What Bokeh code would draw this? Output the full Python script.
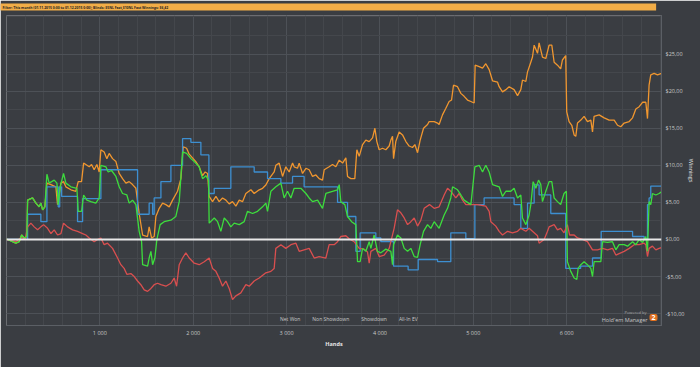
from bokeh.plotting import figure
from bokeh.models import (FixedTicker, Range1d, Span, Label, Legend, LegendItem)
from bokeh.embed import file_html
from bokeh.resources import INLINE

# ---------------- data (hands, $) ----------------
FILTER_TEXT = "Filter: This month (01.11.2015 0:00 to 01.12.2015 0:00); Blinds: $5NL Fast,$10NL Fast  Winnings: $6,42"
SERIES_NAMES = ["Net Won", "Non Showdown", "Showdown", "All-In EV"]

X_TICKS = [1000, 2000, 3000, 4000, 5000, 6000]
X_TICK_LABELS = ["1 000", "2 000", "3 000", "4 000", "5 000", "6 000"]
Y_TICKS = [-10, -5, 0, 5, 10, 15, 20, 25]
Y_TICK_LABELS = ["-$10,00", "-$5,00", "$0,00", "$5,00", "$10,00", "$15,00", "$20,00", "$25,00"]

NET_WON = [(0, 0), (12, 0.0), (100, -0.5), (136, -0.3), (162, 0.6), (190, 0.2), (218, 0.4), (226, 5.3),
           (279, 5.6), (315, 4.9), (350, 4.4), (368, 4.9), (387, 4.0), (411, 4.4), (433, 8.8), (457, 7.6),
           (511, 8.0), (540, 7.6), (554, 4.7), (575, 7.1), (611, 8.9), (636, 7.6), (690, 7.1), (754, 6.9),
           (768, 3.8), (804, 3.8), (826, 6.0), (861, 5.3), (904, 5.1), (957, 4.9), (993, 5.6), (1011, 10.0),
           (1065, 9.8), (1089, 9.1), (1125, 9.3), (1172, 8.5), (1207, 7.1), (1243, 6.2), (1289, 6.0),
           (1314, 4.9), (1350, 5.3), (1386, 4.7), (1421, 1.1), (1447, -0.3), (1458, -3.4), (1511, -3.6),
           (1528, -2.5), (1547, -1.6), (1565, -3.4), (1589, -2.5), (1611, 0.0), (1646, 2.0), (1689, 2.4),
           (1761, 2.6), (1814, 3.1), (1850, 5.1), (1886, 11.8), (1929, 11.6), (1975, 10.9), (2011, 10.5),
           (2064, 9.8), (2100, 8.2), (2136, 8.6), (2164, 8.0), (2171, 2.2), (2225, 2.9), (2261, 2.4),
           (2296, 1.1), (2332, 2.9), (2368, 2.4), (2403, 1.7), (2439, 2.2), (2493, 2.0), (2546, 2.4),
           (2582, 3.8), (2636, 3.5), (2689, 3.8), (2743, 4.4), (2778, 4.9), (2796, 3.8), (2832, 6.5),
           (2885, 7.1), (2939, 7.6), (2974, 5.6), (3010, 6.5), (3046, 5.6), (3081, 6.9), (3153, 6.9),
           (3207, 6.2), (3242, 5.6), (3278, 5.1), (3332, 5.3), (3385, 4.2), (3421, 6.2), (3492, 6.5),
           (3546, 6.7), (3564, 7.4), (3581, 5.1), (3624, 4.7), (3653, 3.1), (3696, 2.4), (3742, 2.0),
           (3760, -3.0), (3788, -3.0), (3814, -1.2), (3849, -1.6), (3885, -0.3), (3903, -1.2), (3938, 0.6),
           (3974, -1.6), (4010, -1.8), (4063, -1.3), (4117, -1.6), (4135, -3.4), (4146, -0.7), (4188, 0.6),
           (4224, 0.2), (4260, -1.2), (4296, -1.6), (4331, -1.2), (4367, -2.3), (4403, -2.4), (4431, -0.7),
           (4467, 1.1), (4510, 2.0), (4545, 1.5), (4581, 2.4), (4634, 1.5), (4688, 3.3), (4724, 4.2),
           (4759, 5.6), (4778, 7.1), (4831, 6.7), (4867, 6.0), (4902, 5.3), (4974, 4.7), (5017, 9.8),
           (5063, 10.0), (5099, 9.1), (5134, 10.0), (5170, 9.1), (5206, 7.4), (5277, 7.1), (5313, 5.8),
           (5349, 6.5), (5402, 6.5), (5437, 6.9), (5474, 5.6), (5509, 6.0), (5527, 2.9), (5563, 2.0),
           (5598, 3.3), (5616, 4.7), (5641, 7.8), (5670, 6.9), (5699, 8.0), (5723, 7.4), (5741, 5.1),
           (5777, 6.5), (5812, 7.8), (5841, 7.8), (5866, 5.6), (5902, 5.1), (5936, 4.7), (5972, 6.2),
           (5997, 6.5), (6008, -3.0), (6044, -4.3), (6080, -5.2), (6109, -5.4), (6123, -3.9), (6152, -3.4),
           (6187, -3.0), (6223, -3.4), (6259, -3.9), (6277, -5.0), (6294, -3.0), (6366, -3.0), (6384, -0.3),
           (6438, -0.4), (6491, -0.3), (6527, -1.4), (6562, -0.7), (6616, -0.7), (6652, -0.9), (6706, -0.3),
           (6741, -0.7), (6777, 0.0), (6813, -0.4), (6848, 0.4), (6866, -1.6), (6883, 5.1), (6901, 4.7),
           (6919, 6.2), (6955, 6.0), (6990, 6.2), (7016, 6.42)]

NON_SHOWDOWN = [(0, 0), (100, -0.3), (160, 0.3), (200, 0.0), (226, 1.7), (261, 2.2), (297, 1.7), (333, 1.3),
                (368, 1.7), (397, 2.0), (440, 1.5), (476, 0.8), (511, 1.3), (547, 0.6), (583, 0.8), (611, 2.2),
                (654, 1.7), (708, 1.3), (761, 1.1), (815, 0.8), (850, 0.6), (886, 0.2), (939, -0.3), (975, 0.0),
                (1011, 0.2), (1046, -0.7), (1082, -0.5), (1136, -1.2), (1190, -2.5), (1225, -3.4), (1260, -3.9),
                (1289, -4.7), (1332, -4.6), (1368, -5.0), (1404, -5.6), (1439, -6.1), (1475, -6.8), (1511, -7.0),
                (1547, -6.6), (1582, -6.1), (1618, -5.9), (1654, -6.1), (1707, -6.3), (1761, -5.9), (1796, -5.2),
                (1822, -6.3), (1850, -3.4), (1886, -2.5), (1921, -1.8), (1957, -2.5), (2011, -3.2), (2064, -3.4),
                (2118, -3.0), (2171, -2.5), (2207, -3.9), (2243, -4.3), (2278, -5.2), (2314, -6.3), (2350, -5.6),
                (2385, -6.6), (2421, -8.1), (2457, -7.6), (2510, -7.2), (2564, -6.1), (2600, -6.3), (2653, -5.6),
                (2707, -5.2), (2778, -4.5), (2832, -4.3), (2867, -3.9), (2885, -1.2), (2939, -0.7), (2992, -1.2),
                (3046, -0.7), (3100, -0.5), (3135, -1.6), (3188, -1.4), (3242, -1.2), (3296, -2.5), (3349, -2.3),
                (3421, -2.5), (3456, -0.7), (3510, -0.7), (3546, -0.3), (3581, 0.4), (3635, 0.5), (3670, 0.1),
                (3724, -0.3), (3778, -1.2), (3831, -1.3), (3867, -1.7), (3885, -3.2), (3903, -1.6), (3956, -1.2),
                (3992, -2.3), (4045, -2.1), (4099, -1.2), (4152, 1.5), (4188, 4.0), (4224, 3.6), (4260, 2.9),
                (4296, 2.0), (4331, 2.4), (4367, 2.9), (4403, 1.8), (4438, 2.6), (4474, 4.2), (4531, 4.7),
                (4581, 4.2), (4634, 4.4), (4688, 6.0), (4724, 6.9), (4759, 6.5), (4813, 5.6), (4848, 6.2),
                (4885, 5.3), (4920, 4.7), (4974, 4.7), (5045, 4.7), (5134, 4.5), (5170, 3.8), (5188, 2.4),
                (5241, 1.8), (5277, 1.1), (5313, 0.6), (5367, 1.1), (5420, 0.9), (5474, 1.1), (5509, 1.5),
                (5563, 1.1), (5598, 1.5), (5652, 0.9), (5688, 0.5), (5705, -0.5), (5759, 0.0), (5795, 1.1),
                (5812, 1.7), (5866, 2.0), (5902, 1.3), (5936, 1.5), (5972, 0.9), (6008, 2.0), (6032, 0.6),
                (6080, 0.6), (6116, 0.2), (6170, 0.0), (6223, -0.3), (6277, -1.4), (6330, -1.4), (6384, -1.2),
                (6438, -1.4), (6491, -1.2), (6527, -2.1), (6562, -1.9), (6616, -1.6), (6670, -1.2), (6724, -0.7),
                (6777, -0.7), (6830, -0.5), (6848, -0.7), (6866, -2.3), (6883, -1.2), (6919, -0.9), (6955, -1.4),
                (6990, -1.2), (7016, -1.1)]

SHOWDOWN = [(0, 0), (226, 3.4), (368, 2.4), (433, 7.1), (554, 4.4), (570, 7.1), (590, 5.8), (761, 2.4),
            (815, 5.5), (1011, 9.4), (1404, 3.4), (1528, 4.9), (1565, 3.4), (1582, 5.6), (1654, 7.8),
            (1761, 10.0), (1886, 13.6), (1975, 13.1), (2082, 11.4), (2168, 6.2), (2225, 6.9), (2403, 9.8),
            (2653, 9.1), (2796, 8.2), (2939, 7.6), (3064, 8.5), (3188, 7.1), (3546, 5.0), (3653, 3.1),
            (3742, -1.6), (3788, 0.9), (3956, 0.2), (4010, -0.3), (4146, -3.6), (4302, -4.1), (4410, -2.7),
            (4617, -3.0), (4759, 0.9), (4920, 0.1), (5017, 4.7), (5116, 5.6), (5437, 4.7), (5509, 1.5),
            (5581, 4.9), (5652, 7.35), (5705, 6.0), (5830, 3.5), (5990, -3.9), (6150, -3.6), (6277, -2.5),
            (6370, 1.1), (6706, 0.4), (6830, 0.0), (6866, 4.7), (6883, 5.6), (6901, 7.2), (7016, 7.2)]

ALL_IN_EV = [(0, 0), (12, 0.0), (100, -0.5), (136, -0.3), (162, 0.6), (190, 0.2), (218, 0.4), (226, 5.3),
             (279, 5.6), (315, 4.9), (350, 4.4), (368, 4.9), (387, 4.0), (411, 4.4), (433, 7.6), (476, 7.4),
             (529, 7.1), (547, 4.7), (583, 7.6), (611, 7.8), (636, 7.1), (690, 6.7), (743, 6.5), (768, 7.8),
             (804, 7.8), (826, 10.3), (850, 10.1), (886, 9.8), (911, 10.1), (939, 9.4), (968, 10.1), (993, 9.1),
             (1011, 12.1), (1046, 11.8), (1075, 10.9), (1100, 11.6), (1136, 10.9), (1172, 10.5), (1207, 8.9),
             (1243, 8.2), (1279, 7.6), (1314, 7.8), (1350, 7.4), (1386, 6.9), (1421, 3.5), (1458, 0.6),
             (1511, 0.4), (1528, 1.7), (1554, 0.2), (1582, 0.4), (1600, 3.1), (1636, 4.2), (1672, 4.9),
             (1707, 4.7), (1743, 4.4), (1779, 5.3), (1832, 6.5), (1868, 8.2), (1893, 12.5), (1929, 12.3),
             (1957, 11.5), (1993, 11.0), (2028, 10.5), (2064, 9.8), (2100, 8.6), (2128, 9.1), (2154, 8.9),
             (2171, 5.8), (2207, 5.1), (2243, 5.8), (2278, 5.1), (2314, 5.6), (2350, 5.3), (2385, 4.8),
             (2421, 5.1), (2457, 4.5), (2493, 5.3), (2528, 5.1), (2564, 6.2), (2618, 6.7), (2653, 6.2),
             (2707, 6.7), (2743, 6.9), (2778, 7.35), (2814, 8.2), (2867, 9.1), (2885, 10.0), (2921, 10.3),
             (2939, 9.4), (2957, 8.5), (2992, 9.8), (3028, 9.1), (3064, 10.3), (3081, 9.8), (3117, 9.6),
             (3135, 10.3), (3171, 8.9), (3207, 9.6), (3242, 9.4), (3278, 8.5), (3314, 8.7), (3349, 8.2),
             (3385, 8.0), (3403, 9.4), (3456, 9.8), (3492, 10.1), (3528, 9.8), (3564, 10.7), (3600, 10.3),
             (3635, 11.0), (3653, 8.5), (3689, 8.2), (3731, 8.2), (3753, 12.1), (3778, 11.2), (3814, 12.8),
             (3849, 13.4), (3885, 13.2), (3921, 13.7), (3946, 15.0), (3967, 13.2), (3992, 12.1), (4028, 12.3),
             (4063, 12.1), (4099, 12.6), (4117, 13.4), (4135, 13.9), (4146, 10.9), (4170, 13.2), (4206, 14.5),
             (4242, 14.1), (4278, 13.2), (4313, 12.6), (4349, 12.4), (4374, 12.8), (4403, 11.7), (4431, 13.4),
             (4467, 15.0), (4510, 15.5), (4527, 15.9), (4581, 15.9), (4617, 15.7), (4634, 15.5), (4670, 16.8),
             (4706, 17.7), (4741, 18.6), (4767, 18.8), (4788, 20.8), (4831, 20.6), (4867, 19.7), (4902, 19.3),
             (4938, 18.8), (4974, 18.6), (5009, 18.4), (5020, 23.5), (5063, 23.3), (5099, 23.1), (5134, 23.7),
             (5170, 22.9), (5206, 21.4), (5260, 21.2), (5277, 20.6), (5313, 19.9), (5349, 20.2), (5384, 20.6),
             (5437, 20.2), (5474, 19.4), (5509, 20.2), (5527, 21.5), (5563, 21.3), (5581, 22.6), (5616, 23.9),
             (5634, 24.6), (5652, 26.2), (5688, 25.1), (5705, 26.5), (5741, 24.6), (5777, 24.4), (5812, 26.2),
             (5841, 26.2), (5866, 23.9), (5902, 23.5), (5936, 23.0), (5955, 24.2), (5990, 24.8), (6001, 17.2),
             (6026, 15.9), (6055, 15.4), (6080, 14.1), (6098, 13.9), (6116, 15.7), (6152, 16.1), (6187, 16.6),
             (6223, 15.9), (6259, 16.1), (6277, 14.5), (6294, 16.6), (6348, 16.8), (6402, 16.4), (6455, 16.1),
             (6509, 16.1), (6545, 15.4), (6580, 15.2), (6616, 15.7), (6670, 15.9), (6706, 16.4), (6741, 17.6),
             (6777, 17.9), (6813, 18.5), (6848, 18.5), (6866, 16.3), (6883, 20.8), (6901, 22.2), (6937, 22.4),
             (6973, 22.2), (7016, 22.4)]

# ---------------- styling ----------------
BG = "#3a3d42"
FONT = "Open Sans"
C_GREEN = "#3ddc3d"
C_RED = "#d94f4f"
C_BLUE = "#3d8fd1"
C_ORANGE = "#f0962f"
C_BADGE = "#e0701f"
COLORS = [C_GREEN, C_RED, C_BLUE, C_ORANGE]


def xs(series):
    return [h for h, _ in series]


def ys(series):
    return [v for _, v in series]


p = figure(width=700, height=367, output_backend="svg", toolbar_location=None,
           x_range=Range1d(0, 7016), y_range=Range1d(-11.6, 30.2),
           y_axis_location="right",
           background_fill_color=BG, border_fill_color=BG,
           min_border_left=6, min_border_right=39, min_border_top=15, min_border_bottom=42)
p.outline_line_color = None

xt = FixedTicker(ticks=X_TICKS, minor_ticks=list(range(0, 7200, 200)))
yt = FixedTicker(ticks=Y_TICKS, minor_ticks=[v / 2 for v in range(-25, 65, 5)])
p.xaxis.ticker = xt
p.yaxis.ticker = yt
p.xgrid.ticker = xt
p.ygrid.ticker = yt

for g in (p.xgrid, p.ygrid):
    g.grid_line_color = "#4d5157"
    g.minor_grid_line_color = "#44474c"
    g.grid_line_width = 1

for ax in (p.xaxis, p.yaxis):
    ax.axis_line_color = "#5b5f65"
    ax.major_tick_line_color = None
    ax.minor_tick_line_color = None
    ax.major_tick_out = 0
    ax.major_tick_in = 0
    ax.minor_tick_out = 0
    ax.minor_tick_in = 0
    ax.major_label_text_color = "#c9c9c9"
    ax.major_label_text_font = FONT
    ax.major_label_text_font_size = "5.5px"
    ax.axis_label_text_color = "#e6e6e6"
    ax.axis_label_text_font = FONT
    ax.axis_label_text_font_size = "5.5px"

p.xaxis.axis_label = "Hands"
p.xaxis.axis_label_text_font_style = "bold"
p.xaxis.major_label_standoff = 3
p.xaxis.axis_label_standoff = 0
p.xaxis.major_label_overrides = dict(zip(X_TICKS, X_TICK_LABELS))

p.yaxis.axis_label = "Winnings"
p.yaxis.axis_label_text_font_style = "normal"
p.yaxis.major_label_standoff = 4
p.yaxis.axis_label_standoff = 0
p.yaxis.major_label_overrides = dict(zip(Y_TICKS, Y_TICK_LABELS))

p.line(xs(ALL_IN_EV), ys(ALL_IN_EV), line_color=C_ORANGE, line_width=1.3)
p.step(xs(SHOWDOWN), ys(SHOWDOWN), mode="after", line_color=C_BLUE, line_width=1.3)
p.line(xs(NON_SHOWDOWN), ys(NON_SHOWDOWN), line_color=C_RED, line_width=1.3)
p.line(xs(NET_WON), ys(NET_WON), line_color=C_GREEN, line_width=1.3)

p.add_layout(Span(location=0, dimension="width", line_color="#e8e8e8", line_width=2))

# ---------- header banner: the figure title ----------
p.title.text = FILTER_TEXT
p.title.align = "left"
p.title.vertical_align = "top"
p.title.offset = -6
p.title.standoff = 6
p.title.text_font = FONT
p.title.text_font_size = "3.4px"
p.title.text_font_style = "bold"
p.title.text_color = "#222222"
p.title.background_fill_color = "#f2ad47"
p.title.padding = dict(left=2, right=487, top=1, bottom=1)

# ---------- series legend (inside the frame, bottom centre) ----------
items = []
for name, col in zip(SERIES_NAMES, COLORS):
    r = p.scatter(x=[], y=[], marker="square", size=3.5, color=col, line_color=None)
    items.append(LegendItem(label=name, renderers=[r]))
legend = Legend(items=items, orientation="horizontal", location=(267, 3),
                label_text_font=FONT, label_text_font_size="5px", label_text_color="#c9c9c9",
                glyph_width=5, glyph_height=5, label_height=7, label_standoff=2, spacing=5,
                padding=0, margin=0, background_fill_alpha=0, border_line_color=None)
p.add_layout(legend, "center")

# ---------- branding (inside the frame, bottom right) ----------
p.add_layout(Label(x=640, y=13, x_units="screen", y_units="screen", text="Powered by",
                   text_font=FONT, text_font_size="4px", text_color="#a8a8a8",
                   text_align="right", text_baseline="middle"))
p.add_layout(Label(x=641, y=6, x_units="screen", y_units="screen", text="Hold'em Manager",
                   text_font=FONT, text_font_size="5.5px", text_color="#c4c4c4",
                   text_align="right", text_baseline="middle"))
p.add_layout(Label(x=647, y=8, x_units="screen", y_units="screen", text="2",
                   text_font=FONT, text_font_size="7px", text_font_style="bold", text_color="#ffffff",
                   text_align="center", text_baseline="middle", background_fill_color=C_BADGE,
                   border_radius=2, padding=dict(left=2, right=2, top=1, bottom=1)))

open("out.html", "w").write(file_html(p, INLINE))
